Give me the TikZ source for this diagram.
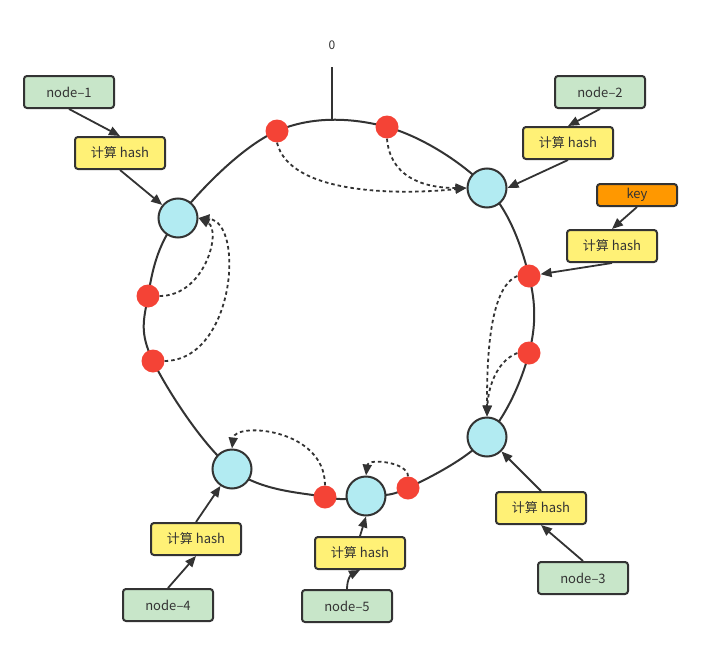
\documentclass[tikz,border=0pt]{standalone}
\usepackage{fontspec}
\setmainfont{Noto Sans CJK SC}
\usetikzlibrary{arrows.meta}
\definecolor{hostgreen}{HTML}{C8E6C9}
\definecolor{hashyellow}{HTML}{FFF176}
\definecolor{keyorange}{HTML}{FF9800}
\definecolor{ringblue}{HTML}{B2EBF2}
\definecolor{dotred}{HTML}{F44336}
\definecolor{linegray}{HTML}{333333}
\tikzset{
  box/.style={draw=linegray, line width=2pt, rounded corners=3pt, minimum width=90pt,
    minimum height=32pt, inner sep=0pt, text=linegray, font=\fontsize{13}{15}\selectfont},
  hostbox/.style={box, fill=hostgreen},
  hashbox/.style={box, fill=hashyellow},
  keybox/.style={box, fill=keyorange, minimum width=80pt, minimum height=22pt},
  vnode/.style={circle, draw=linegray, line width=2pt, fill=ringblue, minimum size=39pt, inner sep=0pt},
  kdot/.style={circle, fill=dotred, minimum size=23pt, inner sep=0pt},
  link/.style={draw=linegray, line width=1.8pt, -{Triangle[length=11pt,width=9pt]}},
  jump/.style={link, dash pattern=on 3.5pt off 3pt},
}

\begin{document}
\begin{tikzpicture}[x=1pt, y=-1pt]
  \useasboundingbox (0,0) rectangle (702,648);
  % positions on the ring
  \foreach \n/\x/\y in {d2/387/127, v2/487/188, d5/529/276, d6/529/353,
      v3/487/437, d8/408/488, v5/366/496, d7/325/497, v4/232/469, d4/153/361,
      d3/148/296, v1/178/218, d1/277/131}
    \coordinate (\n) at (\x,\y);
  \draw[linegray, line width=2pt] plot[smooth cycle, tension=0.6] coordinates
    {(d2) (v2) (d5) (d6) (v3) (d8) (v5) (d7) (v4) (d4) (d3) (v1) (d1)};
  \node[text=linegray, font=\fontsize{12}{14}\selectfont] (zero) at (332,45) {0};
  \coordinate (top) at (332,121);
  \draw[linegray, line width=2pt] (top) -- ++(0,-54);

  % virtual nodes and keys on the ring
  \foreach \n in {v1,v2,v3,v4,v5}
    \node[vnode] (\n) at (\n) {};
  \foreach \n in {d1,d2,d3,d4,d5,d6,d7,d8}
    \node[kdot] (\n) at (\n) {};

  % hosts and hashing
  \node[hostbox] (host1) at (69,92) {node–1};
  \node[hashbox] (hash1) at (120,153) {计算 hash};
  \node[hostbox] (host2) at (600,92) {node–2};
  \node[hashbox] (hash2) at (568,143) {计算 hash};
  \node[keybox] (key) at (637,195) {key};
  \node[hashbox] (hashk) at (612,246) {计算 hash};
  \node[hostbox] (host3) at (583,578) {node–3};
  \node[hashbox] (hash3) at (541,508) {计算 hash};
  \node[hostbox] (host4) at (168,605) {node–4};
  \node[hashbox] (hash4) at (196,539) {计算 hash};
  \node[hostbox] (host5) at (347,606) {node–5};
  \node[hashbox] (hash5) at (360,553) {计算 hash};

  \draw[link] (host1.south) -- (hash1.north);
  \draw[link] (hash1.south) -- (v1);
  \draw[link] (host2.south) -- (hash2.north);
  \draw[link] (hash2.south) -- (v2.east);
  \draw[link] (key.south) -- (hashk.north);
  \draw[link] (hashk.south) -- (d5);
  \draw[link] (host3.north) -- (hash3.south);
  \draw[link] (hash3.north) -- (v3);
  \draw[link] (host4.north) -- (hash4.south);
  \draw[link] (hash4.north) -- (v4);
  \draw[link] (host5.north) .. controls (347,578) and (352,574) .. (hash5.south);
  \draw[link] (hash5.north) -- (v5.south);

  % keys move to the next node clockwise
  \draw[jump] (d1.south) .. controls (290,195) and (400,195) .. (v2.west);
  \draw[jump] (d2.south) .. controls (390,175) and (420,188) .. (v2.west);
  \draw[jump] (d3.east) .. controls (205,296) and (222,230) .. (v1.east);
  \draw[jump] (d4.east) .. controls (235,360) and (245,222) .. (v1.east);
  \draw[jump] (d5.west) .. controls (488,288) and (487,365) .. (v3.north);
  \draw[jump] (d6.west) .. controls (495,362) and (488,390) .. (v3.north);
  \draw[jump] (d7.north) .. controls (325,428) and (235,422) .. (v4.north);
  \draw[jump] (d8.north) .. controls (408,462) and (368,458) .. (v5.north);
\end{tikzpicture}
\end{document}
